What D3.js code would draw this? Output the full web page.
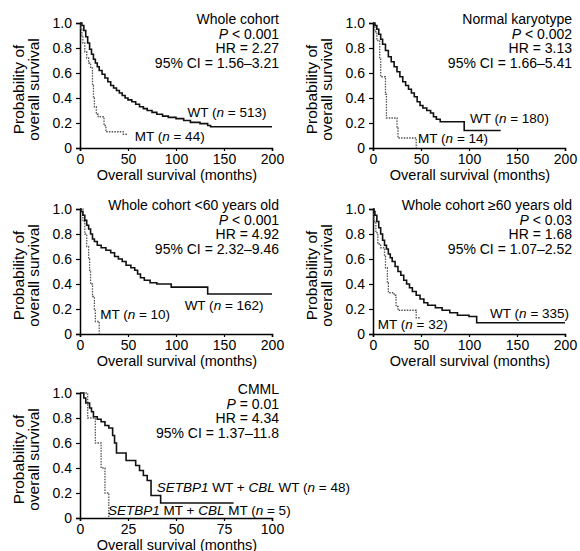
<!DOCTYPE html>
<html>
<head>
<meta charset="utf-8">
<script src="https://cdn.jsdelivr.net/npm/d3@7"></script>
<style>
  body { margin: 0; background: #fff; }
  svg text { font-family: "Liberation Sans", Arial, sans-serif; fill: #000; }
</style>
</head>
<body>
<svg width="580" height="551"></svg>
<script>
// survival curves: [months, probability]
const wholeWT = [[0,1],[2,0.98],[4,0.94],[6,0.89],[8,0.84],[10,0.79],[12,0.75],[14,0.71],[16,0.68],[18,0.65],[20,0.62],[23,0.59],[26,0.56],[29,0.53],[32,0.5],[35,0.48],[38,0.46],[41,0.44],[44,0.42],[47,0.4],[50,0.385],[54,0.37],[58,0.35],[62,0.33],[66,0.315],[70,0.3],[75,0.285],[80,0.27],[86,0.255],[92,0.245],[100,0.235],[108,0.22],[115,0.205],[125,0.195],[133,0.18],[136,0.17],[200,0.17]];
const wholeMT = [[0,1],[1,0.95],[2,0.9],[3,0.84],[5,0.77],[7,0.72],[9,0.68],[11,0.64],[13,0.5],[14,0.4],[15,0.33],[17,0.27],[19,0.25],[25,0.18],[27,0.13],[45,0.11],[50,0.11]];
const normalWT = [[0,1],[2,0.98],[4,0.95],[6,0.91],[8,0.87],[10,0.83],[13,0.78],[16,0.73],[19,0.69],[22,0.65],[25,0.61],[28,0.57],[31,0.53],[34,0.5],[37,0.47],[40,0.44],[43,0.41],[46,0.37],[49,0.34],[52,0.32],[56,0.3],[60,0.28],[63,0.25],[66,0.23],[70,0.21],[95,0.14],[133,0.14]];
const normalMT = [[0,1],[2,0.93],[4,0.86],[7,0.71],[8,0.57],[13,0.43],[14,0.24],[25,0.16],[26,0.08],[45,0]];
const youngWT = [[0,1],[1,0.98],[3,0.95],[5,0.91],[7,0.87],[9,0.84],[11,0.8],[13,0.76],[15,0.74],[18,0.71],[22,0.69],[27,0.67],[32,0.65],[36,0.62],[40,0.6],[44,0.58],[48,0.55],[53,0.53],[57,0.51],[60,0.48],[63,0.45],[67,0.43],[73,0.41],[80,0.4],[95,0.375],[133,0.32],[200,0.32]];
const youngMT = [[0,1],[3,0.9],[5,0.8],[7,0.7],[9,0.6],[10,0.5],[11,0.4],[13,0.3],[15,0.2],[16,0.1],[20,0]];
const oldWT = [[0,1],[1,0.98],[2,0.95],[4,0.9],[6,0.85],[8,0.8],[10,0.75],[12,0.71],[14,0.68],[16,0.64],[18,0.61],[20,0.58],[23,0.54],[26,0.5],[29,0.47],[32,0.43],[35,0.4],[38,0.37],[41,0.34],[45,0.31],[49,0.28],[53,0.25],[57,0.23],[65,0.21],[72,0.19],[80,0.17],[88,0.15],[100,0.14],[108,0.09],[200,0.09]];
const oldMT = [[0,1],[1,0.9],[3,0.81],[5,0.72],[8,0.69],[12,0.62],[13,0.53],[15,0.41],[16,0.33],[22,0.31],[24,0.22],[26,0.19],[45,0.13],[50,0.13]];
const cmmlWT = [[0,1],[2,0.96],[3,0.92],[5,0.88],[6,0.85],[7,0.81],[9,0.79],[11,0.77],[13,0.74],[15,0.72],[17,0.66],[18,0.6],[19,0.52],[24,0.46],[29,0.42],[31,0.38],[33,0.34],[35,0.3],[37,0.18],[42,0.12],[80,0.12]];
const cmmlMT = [[0,1],[4,0.8],[8,0.6],[11,0.4],[13,0.2],[15,0]];

const yTicks = [0, 0.2, 0.4, 0.6, 0.8, 1.0];
const xTicks200 = [0, 50, 100, 150, 200];
const xTicks100 = [0, 25, 50, 75, 100];

// annotation lines: [italic prefix, text]
const panels = [
  { left: 80, top: 23, xmax: 200, xticks: xTicks200, wt: wholeWT, mt: wholeMT,
    notes: [['', 'Whole cohort'], ['P', ' < 0.001'], ['', 'HR = 2.27'], ['', '95% CI = 1.56\u20133.21']],
    wtLabel: { x: 112, y: 0.245, n: '513' }, mtLabel: { x: 57, y: 0.06, n: '44' } },
  { left: 373, top: 23, xmax: 200, xticks: xTicks200, wt: normalWT, mt: normalMT,
    notes: [['', 'Normal karyotype'], ['P', ' < 0.002'], ['', 'HR = 3.13'], ['', '95% CI = 1.66\u20135.41']],
    wtLabel: { x: 101, y: 0.2, n: '180' }, mtLabel: { x: 47, y: 0.04, n: '14' } },
  { left: 80, top: 209, xmax: 200, xticks: xTicks200, wt: youngWT, mt: youngMT,
    notes: [['', 'Whole cohort <60 years old'], ['P', ' < 0.001'], ['', 'HR = 4.92'], ['', '95% CI = 2.32\u20139.46']],
    wtLabel: { x: 109, y: 0.195, n: '162' }, mtLabel: { x: 21, y: 0.12, n: '10' } },
  { left: 373, top: 209, xmax: 200, xticks: xTicks200, wt: oldWT, mt: oldMT,
    notes: [['', 'Whole cohort \u226560 years old'], ['P', ' < 0.03'], ['', 'HR = 1.68'], ['', '95% CI = 1.07\u20132.52']],
    wtLabel: { x: 122, y: 0.13, n: '335' }, mtLabel: { x: 5, y: 0.04, n: '32' } },
  { left: 80, top: 393, xmax: 100, xticks: xTicks100, wt: cmmlWT, mt: cmmlMT, cmml: true,
    notes: [['', 'CMML'], ['P', ' = 0.01'], ['', 'HR = 4.34'], ['', '95% CI = 1.37\u201311.8']],
    wtLabel: { x: 40, y: 0.21, n: '48' }, mtLabel: { x: 14.6, y: 0.025, n: '5' } }
];

const svg = d3.select('svg');
const W = 192, H = 125;

panels.forEach(p => {
  const g = svg.append('g').attr('transform', 'translate(' + p.left + ',' + p.top + ')');
  const x = d3.scaleLinear().domain([0, p.xmax]).range([0, W]);
  const y = d3.scaleLinear().domain([0, 1]).range([H, 0]);

  const line = d3.line().x(d => x(d[0])).y(d => y(d[1])).curve(d3.curveStepAfter);

  // axes
  const xAxis = g.append('g').attr('transform', 'translate(0,' + H + ')')
    .call(d3.axisBottom(x).tickValues(p.xticks).tickSize(3).tickPadding(3).tickFormat(d3.format('d')));
  const yAxis = g.append('g')
    .call(d3.axisLeft(y).tickValues(yTicks).tickSize(4).tickPadding(4)
      .tickFormat(d => d === 0 ? '0' : d3.format('.1f')(d)));
  [xAxis, yAxis].forEach(a => {
    a.select('.domain').attr('stroke', '#000').attr('stroke-width', 1.5);
    a.selectAll('.tick line').attr('stroke', '#000').attr('stroke-width', 1.2);
    a.selectAll('.tick text').style('font-size', '14px').attr('fill', '#000');
  });

  // curves
  g.append('path').datum(p.mt).attr('d', line)
    .attr('fill', 'none').attr('stroke', '#555').attr('stroke-width', 1.3)
    .attr('stroke-dasharray', '1.5,1.2');
  g.append('path').datum(p.wt).attr('d', line)
    .attr('fill', 'none').attr('stroke', '#111').attr('stroke-width', 1.6);

  // axis titles
  g.append('text').attr('x', W / 2 + 1).attr('y', H + 31.5).attr('text-anchor', 'middle')
    .style('font-size', '14.5px').text('Overall survival (months)');
  const yl = g.append('text').attr('transform', 'translate(-56,' + (H / 2 + 4) + ') rotate(-90)')
    .attr('text-anchor', 'middle').style('font-size', '15.5px');
  yl.append('tspan').attr('x', 0).attr('dy', 0).text('Probability of');
  yl.append('tspan').attr('x', 0).attr('dy', 15).text('overall survival');

  // stats annotation
  p.notes.forEach((n, i) => {
    const t = g.append('text').attr('x', W + 7).attr('y', 1 + i * 14.5)
      .attr('text-anchor', 'end').style('font-size', '14px');
    if (n[0]) t.append('tspan').style('font-style', 'italic').text(n[0]);
    t.append('tspan').text(n[1]);
  });

  // curve labels
  const addLabel = (lab, parts) => {
    const t = g.append('text').attr('x', x(lab.x)).attr('y', y(lab.y)).style('font-size', '13.5px');
    parts.forEach(pt => t.append('tspan').style('font-style', pt[1] ? 'italic' : 'normal').text(pt[0]));
  };
  if (p.cmml) {
    addLabel(p.wtLabel, [['SETBP1', 1], [' WT + ', 0], ['CBL', 1], [' WT (', 0], ['n', 1], [' = ' + p.wtLabel.n + ')', 0]]);
    addLabel(p.mtLabel, [['SETBP1', 1], [' MT + ', 0], ['CBL', 1], [' MT (', 0], ['n', 1], [' = ' + p.mtLabel.n + ')', 0]]);
  } else {
    addLabel(p.wtLabel, [['WT (', 0], ['n', 1], [' = ' + p.wtLabel.n + ')', 0]]);
    addLabel(p.mtLabel, [['MT (', 0], ['n', 1], [' = ' + p.mtLabel.n + ')', 0]]);
  }
});
</script>
</body>
</html>
